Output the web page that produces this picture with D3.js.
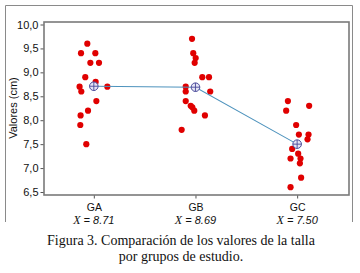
<!DOCTYPE html>
<html>
<head>
<meta charset="utf-8">
<script src="https://cdn.jsdelivr.net/npm/d3@7"></script>
<style>
  body { margin: 0; background: #fff; }
  svg { display: block; }
</style>
</head>
<body>
<svg></svg>
<script>
const width = 360;
const height = 273;

// groups and their means (as printed under the axis)
const groups = ["GA", "GB", "GC"];
const means = [8.71, 8.69, 7.50];
const meanLabels = ["8.71", "8.69", "7.50"];

// individual values per group, with horizontal jitter in group units
const valuesGA = [9.6, 9.4, 9.4, 9.2, 9.2, 8.9, 8.8, 8.7, 8.6, 8.7, 8.4, 8.2, 8.1, 7.9, 7.5];
const jitterGA = [-0.064, -0.126, 0.015, -0.034, 0.051, -0.084, 0.018, -0.140, -0.123, 0.133, 0.025, -0.057, -0.130, -0.133, -0.074];
const valuesGB = [9.7, 9.4, 9.3, 9.2, 8.9, 8.9, 8.7, 8.6, 8.6, 8.4, 8.3, 8.27, 8.2, 8.1, 7.8];
const jitterGB = [-0.034, -0.022, 0.002, -0.008, 0.067, 0.133, -0.096, -0.096, 0.145, -0.096, -0.047, -0.031, -0.012, 0.093, -0.136];
const valuesGC = [8.4, 8.3, 8.2, 7.9, 7.7, 7.7, 7.6, 7.4, 7.3, 7.2, 7.2, 7.1, 6.8, 6.6];
const jitterGC = [-0.091, 0.118, -0.108, -0.010, 0.017, 0.112, 0.102, -0.049, 0.010, 0.033, -0.065, 0.027, 0.039, -0.065];

const yTicks = [6.5, 7.0, 7.5, 8.0, 8.5, 9.0, 9.5, 10.0];

const allValues = [valuesGA, valuesGB, valuesGC];
const allJitter = [jitterGA, jitterGB, jitterGC];

const points = [];
allValues.forEach(function(vals, g) {
  vals.forEach(function(v, i) {
    points.push({ g: g, x: g + allJitter[g][i], v: v });
  });
});

const svg = d3.select("svg")
  .attr("width", width)
  .attr("height", height);

svg.append("rect")
  .attr("width", width).attr("height", height).attr("fill", "#fff");

// outer figure border (top, left, right)
svg.append("path")
  .attr("d", "M5.5,222 L5.5,5.5 L352.5,5.5 L352.5,222")
  .attr("fill", "none")
  .attr("stroke", "#8a8a8a")
  .attr("stroke-width", 1);

const plot = { left: 44, right: 349, top: 22, bottom: 195 };

const x = d3.scaleLinear()
  .domain([-0.49, 2.51])
  .range([plot.left, plot.right]);

const y = d3.scaleLinear()
  .domain([6.5, 10])
  .range([192, 24.5]);

// plot frame
svg.append("rect")
  .attr("x", plot.left)
  .attr("y", plot.top)
  .attr("width", plot.right - plot.left)
  .attr("height", plot.bottom - plot.top)
  .attr("fill", "none")
  .attr("stroke", "#7a7a7a")
  .attr("stroke-width", 1.6);

// y axis
const yAxis = d3.axisLeft(y)
  .tickValues(yTicks)
  .tickSize(3)
  .tickPadding(2)
  .tickFormat(d => d3.format(".1f")(d).replace(".", ","));

const yg = svg.append("g")
  .attr("transform", `translate(${plot.left - 0.5},0)`)
  .call(yAxis);
yg.select(".domain").remove();
yg.selectAll("line").attr("stroke", "#555");
yg.selectAll("text")
  .attr("font-family", "Liberation Sans, Arial, sans-serif")
  .attr("font-size", 11)
  .attr("fill", "#111");

// x axis ticks
const xAxis = d3.axisBottom(x)
  .tickValues([0, 1, 2])
  .tickSize(3)
  .tickFormat(d => groups[d]);

const xg = svg.append("g")
  .attr("transform", `translate(0,${plot.bottom + 0.5})`)
  .call(xAxis);
xg.select(".domain").remove();
xg.selectAll("line").attr("stroke", "#555");
xg.selectAll("text")
  .attr("y", 15)
  .attr("dy", null)
  .attr("font-family", "Liberation Sans, Arial, sans-serif")
  .attr("font-size", 10.5)
  .attr("fill", "#111");

// mean labels
const ml = svg.append("g").selectAll("text")
  .data(groups)
  .join("text")
  .attr("x", (d, i) => x(i))
  .attr("y", 223.5)
  .attr("text-anchor", "middle")
  .attr("font-size", 11)
  .attr("fill", "#111");
ml.append("tspan")
  .attr("font-family", "Liberation Serif, Times New Roman, serif")
  .attr("font-style", "italic")
  .attr("font-size", 12)
  .text("X");
ml.append("tspan")
  .attr("font-family", "Liberation Sans, Arial, sans-serif")
  .attr("font-style", "italic")
  .text((d, i) => " = " + meanLabels[i]);

// y axis title
svg.append("text")
  .attr("transform", "translate(17,108) rotate(-90)")
  .attr("text-anchor", "middle")
  .attr("font-family", "Liberation Sans, Arial, sans-serif")
  .attr("font-size", 11)
  .attr("fill", "#111")
  .text("Valores (cm)");

// individual points
svg.append("g").selectAll("circle")
  .data(points)
  .join("circle")
  .attr("cx", d => x(d.x))
  .attr("cy", d => y(d.v))
  .attr("r", 3.1)
  .attr("fill", "#e00000");

// mean connecting line
const line = d3.line()
  .x((d, i) => x(i))
  .y(d => y(d));

svg.append("path")
  .datum(means)
  .attr("d", line)
  .attr("fill", "none")
  .attr("stroke", "#4e93bd")
  .attr("stroke-width", 1.1);

// mean markers: circle with cross
const mk = svg.append("g").selectAll("g")
  .data(means)
  .join("g")
  .attr("transform", (d, i) => `translate(${x(i)},${y(d)})`);
mk.append("circle")
  .attr("r", 4.3)
  .attr("fill", "#e4e4f4")
  .attr("stroke", "#4a4a9a")
  .attr("stroke-width", 1);
mk.append("path")
  .attr("d", "M-4.3,0H4.3M0,-4.3V4.3")
  .attr("stroke", "#4a4a9a")
  .attr("stroke-width", 0.9);

// caption
const caption = ["Figura 3. Comparación de los valores de la talla", "por grupos de estudio."];
svg.append("g").selectAll("text")
  .data(caption)
  .join("text")
  .attr("x", 181)
  .attr("y", (d, i) => 245 + i * 16)
  .attr("text-anchor", "middle")
  .attr("font-family", "Liberation Serif, Times New Roman, serif")
  .attr("font-size", 14)
  .attr("fill", "#111")
  .text(d => d);
</script>
</body>
</html>
